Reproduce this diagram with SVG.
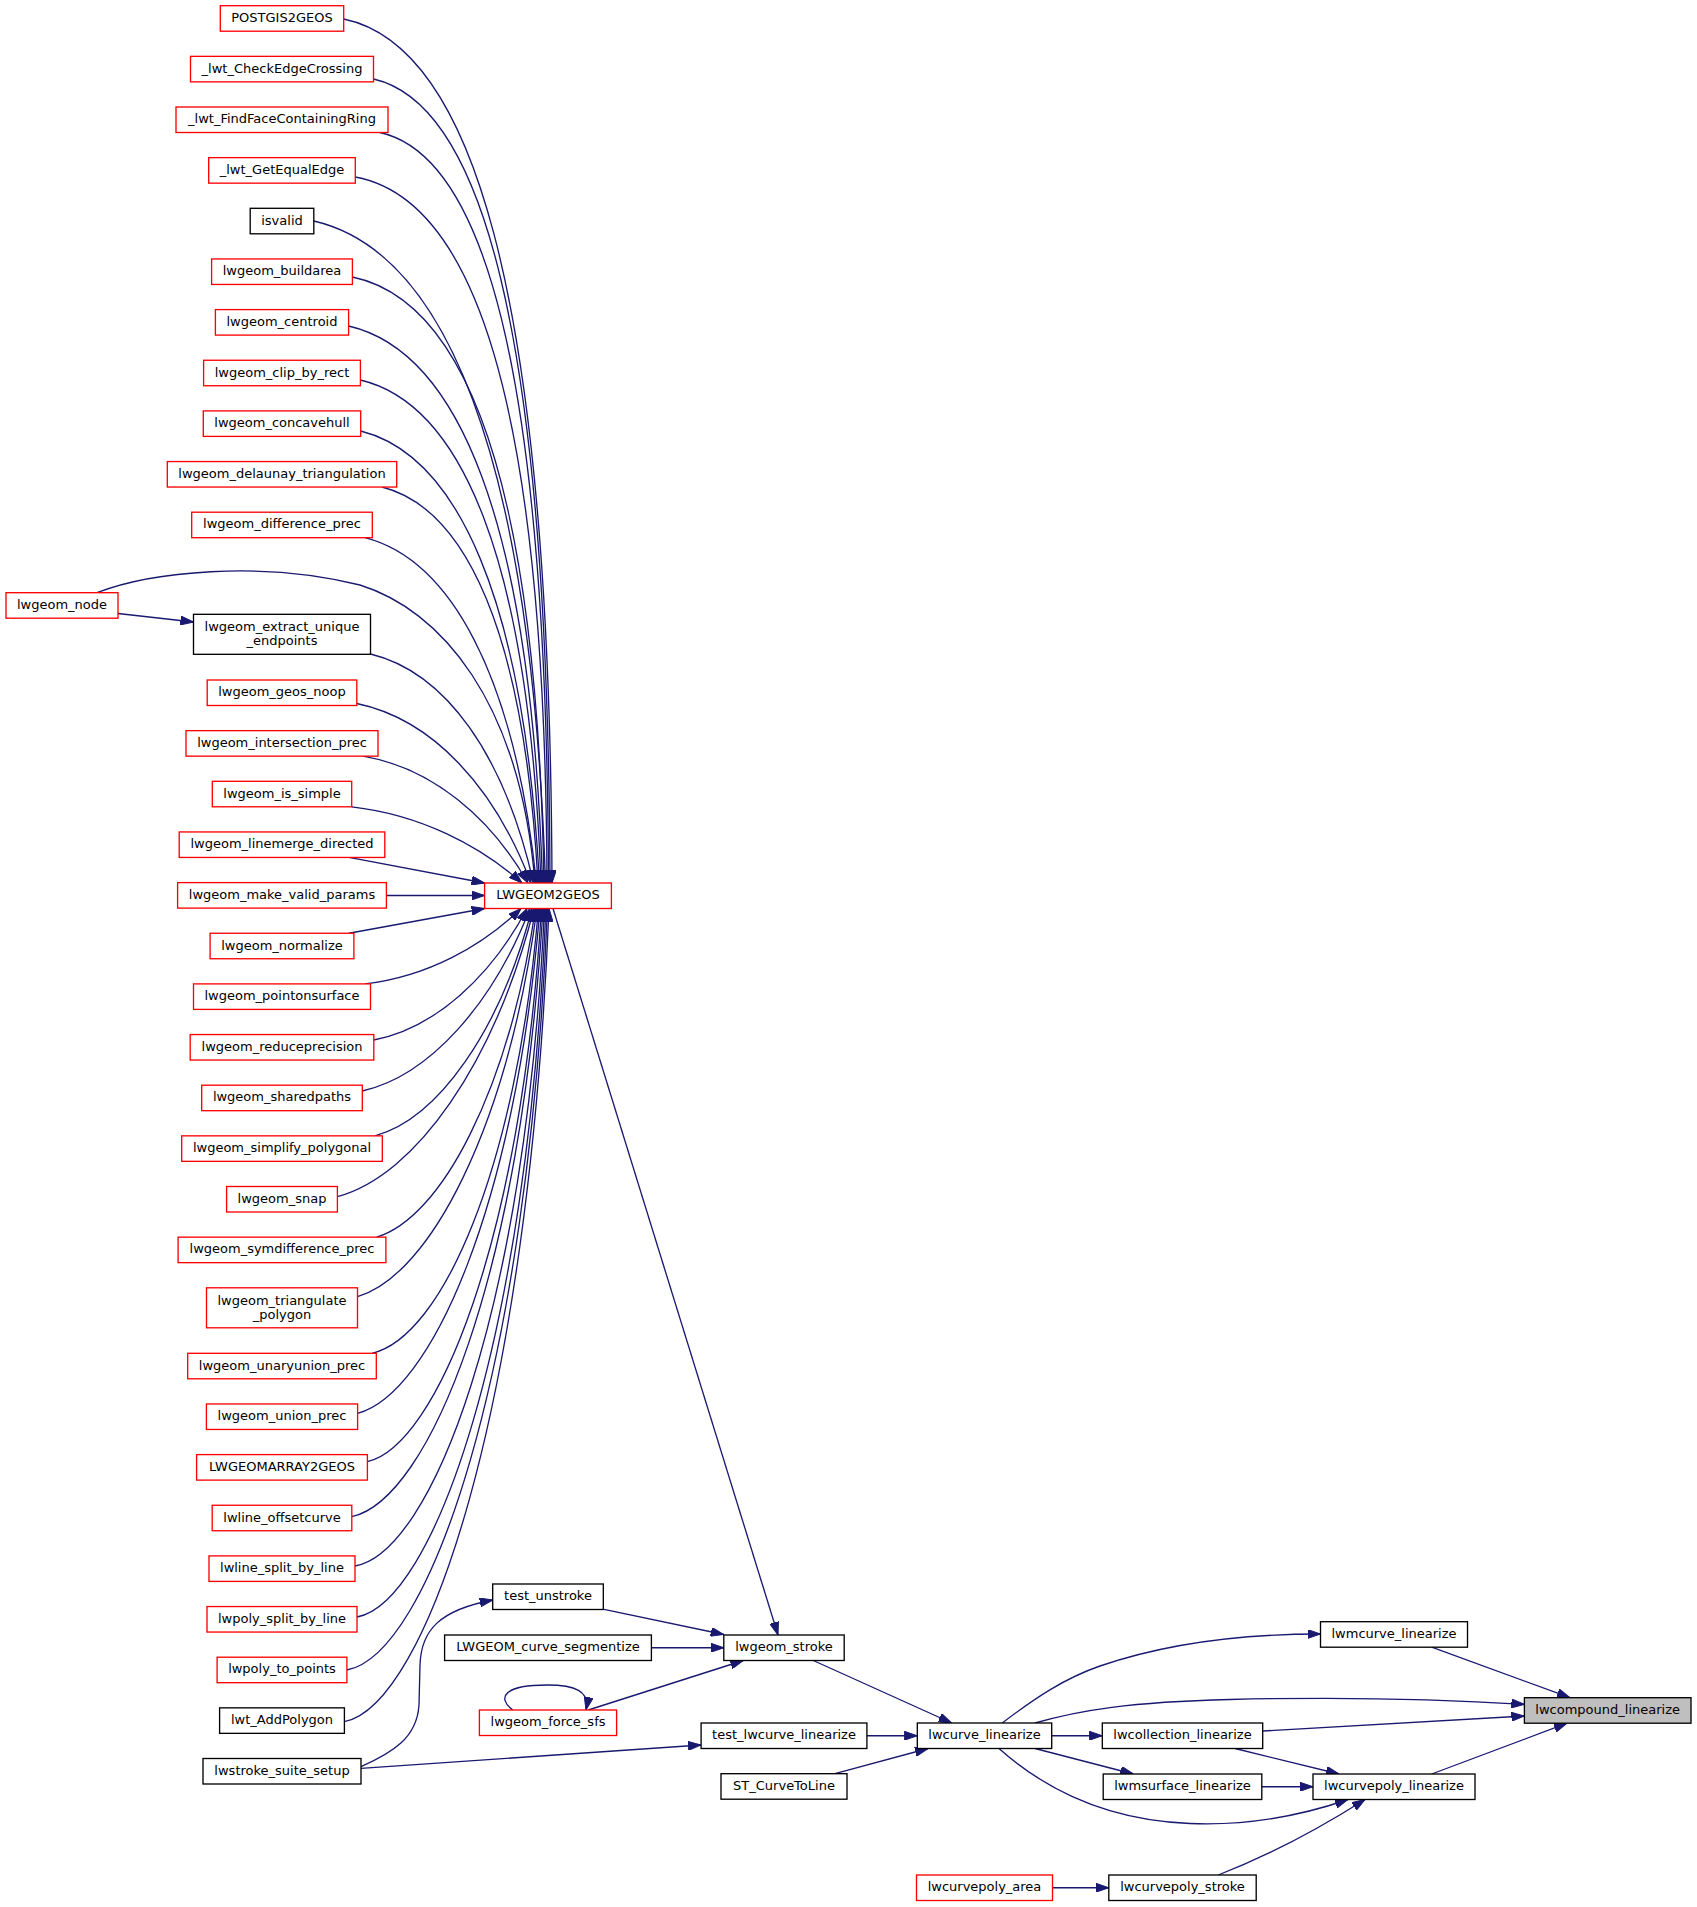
<svg xmlns="http://www.w3.org/2000/svg" width="1697" height="1907" viewBox="0 0 1697 1907">
<style>
.n rect{fill:#fff;stroke:#000;stroke-width:1.33}
.r rect{stroke:#f00}
.f rect{fill:#bfbfbf}
text{font-family:"DejaVu Sans","Liberation Sans",sans-serif;font-size:13px;text-anchor:middle;fill:#000}
#edges path{fill:none;stroke:#191970;stroke-width:1.33;marker-end:url(#a)}
</style>
<defs>
<marker id="a" markerUnits="userSpaceOnUse" viewBox="0 0 13 9" refX="13" refY="4.5" markerWidth="13" markerHeight="9" orient="auto">
<path d="M0,0 L13,4.5 L0,9 z" fill="#191970" stroke="#191970" stroke-width="1"/>
</marker>
</defs>
<rect width="1697" height="1907" fill="#fff"/>
<g id="edges">
<path d="M343.7,19 C468.7,44.9 549.9,278.2 552,883"/>
<path d="M373.5,79 C479.4,103.1 548.2,320.2 550,883"/>
<path d="M380,132.5 C481.1,155 546.8,357.6 548.5,883"/>
<path d="M355.3,177 C470.3,198.2 545.1,388.8 547,883"/>
<path d="M313.8,221 C442.9,250.8 531.4,448.1 545.5,883"/>
<path d="M352.4,277 C463.1,300 536.9,472.1 544,883"/>
<path d="M348.6,326 C456.8,351.1 530.9,516.5 542.5,883"/>
<path d="M360.4,380 C460.1,403.6 528.9,555 541,883"/>
<path d="M360.7,431 C456.4,455 523.8,596 539.5,883"/>
<path d="M382,487 C465.6,508.1 524.4,631.5 538,883"/>
<path d="M365,537.7 C450.9,560 514.4,675.4 536.5,883"/>
<path d="M97,592.7 C150,572 260,560 360,585 C440,610 520,700 535,883"/>
<path d="M370.5,654 C445.5,672.1 504.5,754.8 533.5,883"/>
<path d="M356.8,703.5 C432.6,719.3 494.8,787 531,883"/>
<path d="M363,756.15 C432,767.9 490.4,817.2 528,883"/>
<path d="M351.7,806.8 C419.8,814.6 479.4,845 522,883"/>
<path d="M349,857.45 L484.6,883"/>
<path d="M386.4,895.5 L484.6,895.5"/>
<path d="M349,933.25 L484.6,908.5"/>
<path d="M365,983.9 C427.4,976.5 482,946.25 521,908.5"/>
<path d="M373.8,1040 C435.1,1028.2 491.5,976.1 527,908.5"/>
<path d="M362.3,1091 C429.4,1075.7 492.9,1004.1 530,908.5"/>
<path d="M375,1135.85 C437.8,1118.9 500.3,1030.9 532,908.5"/>
<path d="M337.4,1196.7 C416,1175.4 494.3,1063.5 534,908.5"/>
<path d="M376.7,1237.15 C440.2,1218.1 508.2,1093.6 535.5,908.5"/>
<path d="M357.5,1296.7 C429.8,1275.3 507.3,1128.6 537,908.5"/>
<path d="M372,1353.3 C441.4,1337.1 516.3,1171.9 538.5,908.5"/>
<path d="M357.6,1413.3 C431,1393.6 515.3,1206.8 540,908.5"/>
<path d="M367.4,1461.7 C436.2,1445.7 521,1243.7 541.5,908.5"/>
<path d="M351.8,1516.7 C428.8,1499.7 521.1,1278.3 543,908.5"/>
<path d="M355,1566 C430.8,1552.8 525.5,1316.2 544.5,908.5"/>
<path d="M357,1617 C432.6,1602.8 527.1,1347.8 546,908.5"/>
<path d="M346.9,1670 C428,1654.8 527.6,1380.6 547.5,908.5"/>
<path d="M344.4,1721.7 C426.2,1705.4 528.5,1412.7 549,908.5"/>
<path d="M118,613.5 L193.5,622"/>
<path d="M553,908.5 L778,1635"/>
<path d="M604,1609.3 L723.8,1634.5"/>
<path d="M651.4,1647.75 L723.8,1647.75"/>
<path d="M588.3,1710 L743.3,1660.5"/>
<path d="M512.7,1710 C496,1697 505,1685 547,1685 C575,1685 590,1691 586,1710"/>
<path d="M361,1766.7 C392,1753 417,1738 419,1705 L420,1665 C421,1630 440,1610 492.7,1600"/>
<path d="M361,1768.3 L701.1,1745"/>
<path d="M813.3,1660.5 L951.7,1723"/>
<path d="M866.9,1735.75 L917.3,1735.75"/>
<path d="M835,1773.7 L928,1748.5"/>
<path d="M1002.3,1723 C1035,1698 1065,1678 1100,1666 C1170,1642 1250,1634 1320.5,1634"/>
<path d="M1035,1723 C1080,1710 1130,1702 1230,1699.5 C1330,1697 1440,1699 1524.4,1704.3"/>
<path d="M1051.7,1735.75 L1102.3,1735.75"/>
<path d="M1262.7,1731 L1524.4,1716"/>
<path d="M1035,1748.5 L1133.3,1774"/>
<path d="M1235,1748.5 L1339,1774"/>
<path d="M1261.8,1786.75 L1313,1786.75"/>
<path d="M1431.7,1774 L1567,1723.2"/>
<path d="M1431.7,1647.2 L1570,1697.7"/>
<path d="M999,1748.5 C1040,1785 1100,1820 1190,1823.5 C1250,1826 1300,1816 1348,1799.5"/>
<path d="M1218.3,1875 C1270,1855 1320,1828 1365,1799.5"/>
<path d="M1052.5,1887.75 L1108.8,1887.75"/>
</g>
<g id="n_postgis2geos" class="n r"><rect x="220.3" y="5.7" width="123.4" height="25.5"/><text x="282" y="21.95">POSTGIS2GEOS</text></g>
<g id="n_lwt_checkedgecrossing" class="n r"><rect x="190.5" y="56.35" width="183" height="25.5"/><text x="282" y="72.6">_lwt_CheckEdgeCrossing</text></g>
<g id="n_lwt_findfacecontainingring" class="n r"><rect x="176" y="107" width="212" height="25.5"/><text x="282" y="123.25">_lwt_FindFaceContainingRing</text></g>
<g id="n_lwt_getequaledge" class="n r"><rect x="208.7" y="157.65" width="146.6" height="25.5"/><text x="282" y="173.9">_lwt_GetEqualEdge</text></g>
<g id="n_isvalid" class="n"><rect x="250.2" y="208.3" width="63.6" height="25.5"/><text x="282" y="224.55">isvalid</text></g>
<g id="n_lwgeom_buildarea" class="n r"><rect x="211.6" y="258.95" width="140.8" height="25.5"/><text x="282" y="275.2">lwgeom_buildarea</text></g>
<g id="n_lwgeom_centroid" class="n r"><rect x="215.4" y="309.6" width="133.2" height="25.5"/><text x="282" y="325.85">lwgeom_centroid</text></g>
<g id="n_lwgeom_clip_by_rect" class="n r"><rect x="203.6" y="360.25" width="156.8" height="25.5"/><text x="282" y="376.5">lwgeom_clip_by_rect</text></g>
<g id="n_lwgeom_concavehull" class="n r"><rect x="203.3" y="410.9" width="157.4" height="25.5"/><text x="282" y="427.15">lwgeom_concavehull</text></g>
<g id="n_lwgeom_delaunay_triangulation" class="n r"><rect x="167.3" y="461.55" width="229.4" height="25.5"/><text x="282" y="477.8">lwgeom_delaunay_triangulation</text></g>
<g id="n_lwgeom_difference_prec" class="n r"><rect x="191.7" y="512.2" width="180.6" height="25.5"/><text x="282" y="528.45">lwgeom_difference_prec</text></g>
<g id="n_lwgeom_node" class="n r"><rect x="6" y="592.7" width="112" height="25.5"/><text x="62" y="608.95">lwgeom_node</text></g>
<g id="n_lwgeom_extract_unique_endpoints" class="n"><rect x="193.5" y="614.3" width="177" height="40"/><text x="282" y="631.3">lwgeom_extract_unique</text><text x="282" y="645.3">_endpoints</text></g>
<g id="n_lwgeom_geos_noop" class="n r"><rect x="207.2" y="680" width="149.6" height="25.5"/><text x="282" y="696.25">lwgeom_geos_noop</text></g>
<g id="n_lwgeom_intersection_prec" class="n r"><rect x="186" y="730.65" width="192" height="25.5"/><text x="282" y="746.9">lwgeom_intersection_prec</text></g>
<g id="n_lwgeom_is_simple" class="n r"><rect x="212.3" y="781.3" width="139.4" height="25.5"/><text x="282" y="797.55">lwgeom_is_simple</text></g>
<g id="n_lwgeom_linemerge_directed" class="n r"><rect x="179.2" y="831.95" width="205.6" height="25.5"/><text x="282" y="848.2">lwgeom_linemerge_directed</text></g>
<g id="n_lwgeom_make_valid_params" class="n r"><rect x="177.6" y="882.6" width="208.8" height="25.5"/><text x="282" y="898.85">lwgeom_make_valid_params</text></g>
<g id="n_lwgeom_normalize" class="n r"><rect x="210.1" y="933.25" width="143.8" height="25.5"/><text x="282" y="949.5">lwgeom_normalize</text></g>
<g id="n_lwgeom_pointonsurface" class="n r"><rect x="193.5" y="983.9" width="177" height="25.5"/><text x="282" y="1000.15">lwgeom_pointonsurface</text></g>
<g id="n_lwgeom_reduceprecision" class="n r"><rect x="190.2" y="1034.55" width="183.6" height="25.5"/><text x="282" y="1050.8">lwgeom_reduceprecision</text></g>
<g id="n_lwgeom_sharedpaths" class="n r"><rect x="201.7" y="1085.2" width="160.6" height="25.5"/><text x="282" y="1101.45">lwgeom_sharedpaths</text></g>
<g id="n_lwgeom_simplify_polygonal" class="n r"><rect x="181.7" y="1135.85" width="200.6" height="25.5"/><text x="282" y="1152.1">lwgeom_simplify_polygonal</text></g>
<g id="n_lwgeom_snap" class="n r"><rect x="226.6" y="1186.5" width="110.8" height="25.5"/><text x="282" y="1202.75">lwgeom_snap</text></g>
<g id="n_lwgeom_symdifference_prec" class="n r"><rect x="178.1" y="1237.15" width="207.8" height="25.5"/><text x="282" y="1253.4">lwgeom_symdifference_prec</text></g>
<g id="n_lwgeom_triangulate_polygon" class="n r"><rect x="206.5" y="1287.8" width="151" height="40"/><text x="282" y="1304.8">lwgeom_triangulate</text><text x="282" y="1318.8">_polygon</text></g>
<g id="n_lwgeom_unaryunion_prec" class="n r"><rect x="187.7" y="1353.3" width="188.6" height="25.5"/><text x="282" y="1369.55">lwgeom_unaryunion_prec</text></g>
<g id="n_lwgeom_union_prec" class="n r"><rect x="206.4" y="1403.95" width="151.2" height="25.5"/><text x="282" y="1420.2">lwgeom_union_prec</text></g>
<g id="n_lwgeomarray2geos" class="n r"><rect x="196.6" y="1454.6" width="170.8" height="25.5"/><text x="282" y="1470.85">LWGEOMARRAY2GEOS</text></g>
<g id="n_lwline_offsetcurve" class="n r"><rect x="212.2" y="1505.25" width="139.6" height="25.5"/><text x="282" y="1521.5">lwline_offsetcurve</text></g>
<g id="n_lwline_split_by_line" class="n r"><rect x="209" y="1555.9" width="146" height="25.5"/><text x="282" y="1572.15">lwline_split_by_line</text></g>
<g id="n_lwpoly_split_by_line" class="n r"><rect x="207" y="1606.55" width="150" height="25.5"/><text x="282" y="1622.8">lwpoly_split_by_line</text></g>
<g id="n_lwpoly_to_points" class="n r"><rect x="217.1" y="1657.2" width="129.8" height="25.5"/><text x="282" y="1673.45">lwpoly_to_points</text></g>
<g id="n_lwt_addpolygon" class="n"><rect x="219.6" y="1707.85" width="124.8" height="25.5"/><text x="282" y="1724.1">lwt_AddPolygon</text></g>
<g id="n_lwstroke_suite_setup" class="n"><rect x="203" y="1758.5" width="158" height="25.5"/><text x="282" y="1774.75">lwstroke_suite_setup</text></g>
<g id="n_lwgeom2geos" class="n r"><rect x="484.6" y="883" width="126.8" height="25.5"/><text x="548" y="899.25">LWGEOM2GEOS</text></g>
<g id="n_test_unstroke" class="n"><rect x="492.7" y="1584" width="110.6" height="25.5"/><text x="548" y="1600.25">test_unstroke</text></g>
<g id="n_lwgeom_curve_segmentize" class="n"><rect x="444.6" y="1635" width="206.8" height="25.5"/><text x="548" y="1651.25">LWGEOM_curve_segmentize</text></g>
<g id="n_lwgeom_force_sfs" class="n r"><rect x="479.4" y="1710" width="137.2" height="25.5"/><text x="548" y="1726.25">lwgeom_force_sfs</text></g>
<g id="n_lwgeom_stroke" class="n"><rect x="723.8" y="1635" width="120.4" height="25.5"/><text x="784" y="1651.25">lwgeom_stroke</text></g>
<g id="n_test_lwcurve_linearize" class="n"><rect x="701.1" y="1723" width="165.8" height="25.5"/><text x="784" y="1739.25">test_lwcurve_linearize</text></g>
<g id="n_st_curvetoline" class="n"><rect x="721" y="1773.7" width="126" height="25.5"/><text x="784" y="1789.95">ST_CurveToLine</text></g>
<g id="n_lwcurve_linearize" class="n"><rect x="917.3" y="1723" width="134.4" height="25.5"/><text x="984.5" y="1739.25">lwcurve_linearize</text></g>
<g id="n_lwcurvepoly_area" class="n r"><rect x="916.5" y="1875" width="136" height="25.5"/><text x="984.5" y="1891.25">lwcurvepoly_area</text></g>
<g id="n_lwcollection_linearize" class="n"><rect x="1102.3" y="1723" width="160.4" height="25.5"/><text x="1182.5" y="1739.25">lwcollection_linearize</text></g>
<g id="n_lwmsurface_linearize" class="n"><rect x="1103.2" y="1774" width="158.6" height="25.5"/><text x="1182.5" y="1790.25">lwmsurface_linearize</text></g>
<g id="n_lwcurvepoly_stroke" class="n"><rect x="1108.8" y="1875" width="147.4" height="25.5"/><text x="1182.5" y="1891.25">lwcurvepoly_stroke</text></g>
<g id="n_lwmcurve_linearize" class="n"><rect x="1320.5" y="1621.7" width="147" height="25.5"/><text x="1394" y="1637.95">lwmcurve_linearize</text></g>
<g id="n_lwcurvepoly_linearize" class="n"><rect x="1313" y="1774" width="162" height="25.5"/><text x="1394" y="1790.25">lwcurvepoly_linearize</text></g>
<g id="n_lwcompound_linearize" class="n f"><rect x="1524.4" y="1697.7" width="166.6" height="25.5"/><text x="1607.7" y="1713.95">lwcompound_linearize</text></g>
</svg>
